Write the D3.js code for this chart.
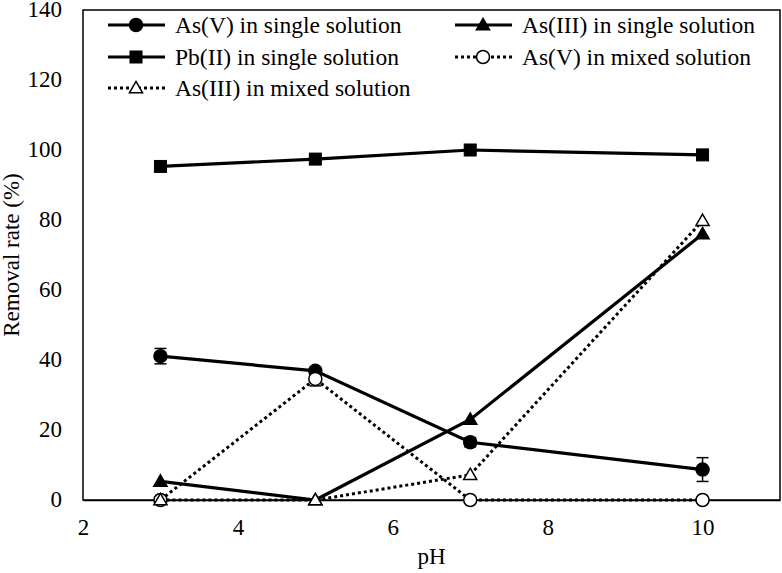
<!DOCTYPE html>
<html>
<head>
<meta charset="utf-8">
<script src="https://cdn.jsdelivr.net/npm/d3@7"></script>
</head>
<body style="margin:0">
<svg id="chart" width="782" height="573" font-family="Liberation Serif"></svg>
<script>
// data
var pH = [3, 5, 7, 10];
var asVSingle = [41.1, 36.9, 16.5, 8.7];
var asVSingleErr = [2.2, 1.0, 1.3, 3.4];
var asIIISingle = [5.3, 0, 23.0, 76.0];
var pbSingle = [95.3, 97.4, 100, 98.6];
var asVMixed = [0, 34.6, 0, 0];
var asVMixedErr = [0, 2.0, 0, 0];
var asIIIMixed = [0, 0, 7.2, 79.8];
var xTicks = [2, 4, 6, 8, 10];
var yTicks = [0, 20, 40, 60, 80, 100, 120, 140];

var FONT = "Liberation Serif";

var series = [
  { name: "As(V) in single solution", values: asVSingle, err: asVSingleErr, marker: "circle", fill: "#000", dash: null },
  { name: "As(III) in single solution", values: asIIISingle, err: null, marker: "triangle", fill: "#000", dash: null },
  { name: "Pb(II) in single solution", values: pbSingle, err: null, marker: "square", fill: "#000", dash: null },
  { name: "As(V) in mixed solution", values: asVMixed, err: asVMixedErr, marker: "circle", fill: "#fff", dash: "3,3" },
  { name: "As(III) in mixed solution", values: asIIIMixed, err: null, marker: "triangle", fill: "#fff", dash: "3,3" }
];

var svg = d3.select("#chart");
var padding = { top: 10, right: 2, bottom: 73, left: 83 };
var width = +svg.attr("width");
var height = +svg.attr("height");

var xScale = d3.scaleLinear()
               .domain([2, 11])
               .range([padding.left, width - padding.right]);

var yScale = d3.scaleLinear()
               .domain([0, 140])
               .range([height - padding.bottom, padding.top]);

// plot border
svg.append("rect")
    .attr("x", padding.left)
    .attr("y", padding.top)
    .attr("width", width - padding.right - padding.left)
    .attr("height", height - padding.bottom - padding.top)
    .attr("fill", "none")
    .attr("stroke", "#000")
    .attr("stroke-width", 1.5);

var xAxis = d3.axisBottom(xScale).tickValues(xTicks).tickSize(0).tickPadding(19);
var gx = svg.append("g")
    .attr("transform", "translate(0," + yScale(0) + ")")
    .call(xAxis);
gx.attr("font-family", FONT).attr("font-size", 23);
gx.select(".domain").attr("stroke-width", 1.5);
gx.selectAll("text").attr("font-family", FONT);

var yAxis = d3.axisLeft(yScale).tickValues(yTicks).tickSize(0).tickPadding(21);
var gy = svg.append("g")
    .attr("transform", "translate(" + padding.left + ",0)")
    .call(yAxis);
gy.attr("font-family", FONT).attr("font-size", 23);
gy.select(".domain").remove();
gy.selectAll("text").attr("font-family", FONT).attr("dy", "0.3em");

svg.append("text")
    .attr("font-family", FONT)
    .attr("font-size", 23)
    .attr("text-anchor", "middle")
    .attr("transform", "rotate(-90)")
    .attr("x", -yScale(70))
    .attr("y", 19)
    .text("Removal rate (%)");

svg.append("text")
    .attr("font-family", FONT)
    .attr("font-size", 23)
    .attr("text-anchor", "middle")
    .attr("x", xScale(6.5))
    .attr("y", 564)
    .text("pH");

function drawMarker(g, type, fill, cx, cy) {
  if (type === "circle") {
    g.append("circle").attr("cx", cx).attr("cy", cy).attr("r", 6.5)
      .attr("fill", fill).attr("stroke", "#000").attr("stroke-width", 1.5);
  } else if (type === "square") {
    g.append("rect").attr("x", cx - 6).attr("y", cy - 6).attr("width", 12).attr("height", 12)
      .attr("fill", fill).attr("stroke", "#000").attr("stroke-width", 1);
  } else {
    g.append("path")
      .attr("d", d3.symbol().type(d3.symbolTriangle).size(75)())
      .attr("transform", "translate(" + cx + "," + (cy + 1) + ")")
      .attr("fill", fill).attr("stroke", "#000").attr("stroke-width", 1.5);
  }
}

var line = d3.line()
             .x((d, i) => xScale(pH[i]))
             .y(d => yScale(d));

series.forEach(function (s) {
  var g = svg.append("g");
  g.append("path")
      .datum(s.values)
      .attr("d", line)
      .attr("fill", "none")
      .attr("stroke", "#000")
      .attr("stroke-width", s.dash ? 3 : 3.2)
      .attr("stroke-dasharray", s.dash);

  if (s.err) {
    s.values.forEach(function (v, i) {
      if (!s.err[i]) return;
      var x = xScale(pH[i]);
      var y0 = yScale(v - s.err[i]), y1 = yScale(v + s.err[i]);
      g.append("line").attr("x1", x).attr("x2", x).attr("y1", y0).attr("y2", y1)
        .attr("stroke", "#000").attr("stroke-width", 1.5);
      [y0, y1].forEach(function (y) {
        g.append("line").attr("x1", x - 6).attr("x2", x + 6).attr("y1", y).attr("y2", y)
          .attr("stroke", "#000").attr("stroke-width", 1.5);
      });
    });
  }

  s.values.forEach(function (v, i) {
    drawMarker(g, s.marker, s.fill, xScale(pH[i]), yScale(v));
  });
});

// legend, two columns
var legendPos = [
  { x: 108, y: 25 }, { x: 455, y: 25 },
  { x: 108, y: 57 }, { x: 455, y: 57 },
  { x: 108, y: 88 }
];

series.forEach(function (s, j) {
  var p = legendPos[j];
  var g = svg.append("g");
  g.append("line")
      .attr("x1", p.x).attr("x2", p.x + 57)
      .attr("y1", p.y).attr("y2", p.y)
      .attr("stroke", "#000")
      .attr("stroke-width", 3)
      .attr("stroke-dasharray", s.dash);
  drawMarker(g, s.marker, s.fill, p.x + 28, p.y);
  g.append("text")
      .attr("font-family", FONT)
      .attr("font-size", 23.5)
      .attr("x", p.x + 67)
      .attr("y", p.y + 8)
      .text(s.name);
});
</script>
</body>
</html>
